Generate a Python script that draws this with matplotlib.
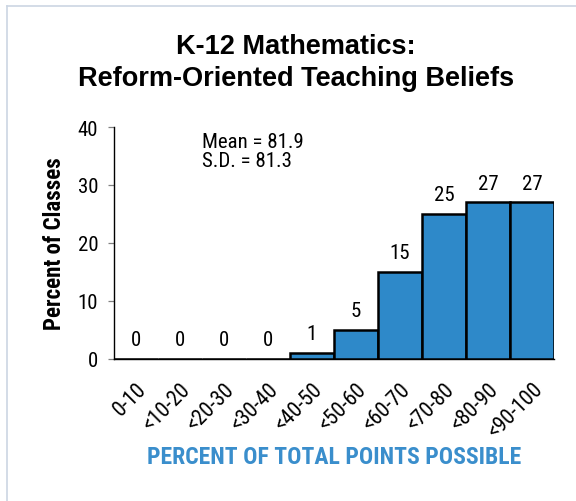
import matplotlib
matplotlib.use("Agg")
import matplotlib.pyplot as plt
from matplotlib import font_manager
from matplotlib.lines import Line2D

categories = ["0-10", "<10-20", "<20-30", "<30-40", "<40-50",
              "<50-60", "<60-70", "<70-80", "<80-90", "<90-100"]
values = [0, 0, 0, 0, 1, 5, 15, 25, 27, 27]
yticks = [0, 10, 20, 30, 40]
title_lines = ["K-12 Mathematics:", "Reform-Oriented Teaching Beliefs"]
stats_text = ["Mean = 81.9", "S.D. = 81.3"]

names = {f.name for f in font_manager.fontManager.ttflist}
narrow = "Liberation Sans"
for cand in ["Liberation Sans Narrow", "Arial Narrow", "Roboto Condensed", "Archivo Narrow",
             "IBM Plex Sans Condensed", "Asap Condensed", "Sofia Sans Semi Condensed"]:
    if cand in names:
        narrow = cand
        break
scale = 0.85 if narrow == "Liberation Sans" else 1.0

W, H = 576, 502
fig = plt.figure(figsize=(W / 100, H / 100), dpi=100)
fig.patch.set_facecolor("white")

# light frame lines (top and left)
fig.add_artist(Line2D([7 / W, 1], [1 - 7 / H, 1 - 7 / H], color="#CCD6E3", lw=1.2))
fig.add_artist(Line2D([7 / W, 7 / W], [0, 1 - 7 / H], color="#CCD6E3", lw=1.2))

ax = fig.add_axes([114 / W, (H - 360) / H, (554 - 114) / W, (360 - 128) / H])
x = list(range(len(categories)))
ax.bar(x, values, width=1.0, color="#2E89C9", edgecolor="black", linewidth=1.8, zorder=3)
ax.set_xlim(-0.5, len(categories) - 0.5)
ax.set_ylim(0, 40)
ax.set_yticks(yticks)
ax.set_yticklabels([str(t) for t in yticks], fontsize=15 * scale, family=narrow)
ax.set_xticks(x)
ax.set_xticklabels(categories, rotation=45, ha="right", rotation_mode="anchor",
                   fontsize=15.5 * scale, family=narrow)
ax.tick_params(axis="x", length=0, pad=14)
ax.tick_params(axis="y", length=4.3, width=0.9, color="#808080", pad=7)
for s in ["top", "right"]:
    ax.spines[s].set_visible(False)
ax.spines["left"].set_linewidth(1.0)
ax.spines["bottom"].set_linewidth(1.0)

for xi, v in zip(x, values):
    ax.annotate(str(v), (xi, v), xytext=(0, 10), textcoords="offset points",
                ha="center", va="baseline", fontsize=15 * scale, family=narrow)

fig.text(202 / W, 1 - 143 / H, stats_text[0], ha="left", va="center",
         fontsize=15 * scale, family=narrow)
fig.text(202 / W, 1 - 162 / H, stats_text[1], ha="left", va="center",
         fontsize=15 * scale, family=narrow)

fig.text(296 / W, 1 - 47 / H, title_lines[0], ha="center", va="center",
         fontsize=19.5, fontweight="bold", family="Liberation Sans")
fig.text(296 / W, 1 - 79 / H, title_lines[1], ha="center", va="center",
         fontsize=19.5, fontweight="bold", family="Liberation Sans")

fig.text(55 / W, 1 - 244 / H, "Percent of Classes", rotation=90, ha="center", va="center",
         fontsize=16.5 * scale, fontweight="bold", family=narrow)
fig.text(334 / W, 1 - 458 / H, "PERCENT OF TOTAL POINTS POSSIBLE", ha="center", va="center",
         fontsize=17 * scale, fontweight="bold", family=narrow, color="#3A8ECC")

fig.savefig("out.png", dpi=100, facecolor="white")
